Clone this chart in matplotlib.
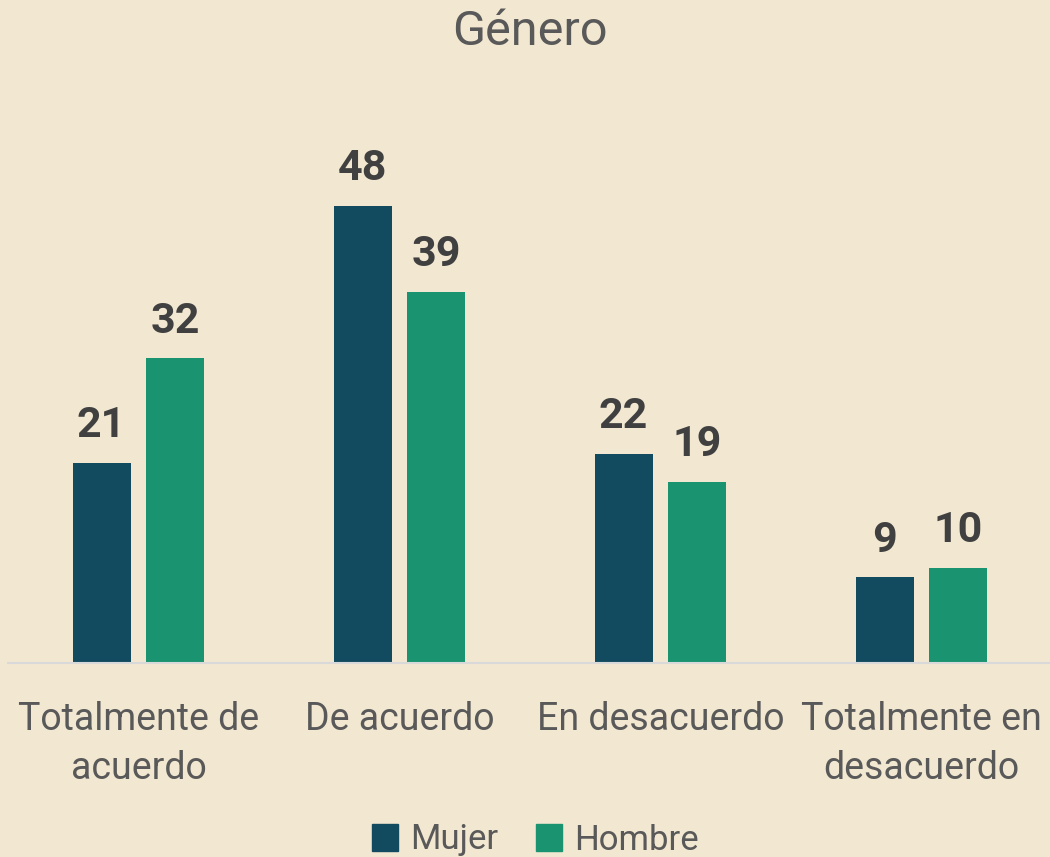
import matplotlib
matplotlib.use("Agg")
import matplotlib.pyplot as plt
import numpy as np
from matplotlib.patches import Patch

categories = ["Totalmente de\nacuerdo", "De acuerdo", "En desacuerdo", "Totalmente en\ndesacuerdo"]
mujer = [21, 48, 22, 9]
hombre = [32, 39, 19, 10]
series_names = ["Mujer", "Hombre"]
title = "Género"

bg = "#F2E7D1"
c_mujer = "#124A5F"
c_hombre = "#1A9470"
text_gray = "#595959"
label_gray = "#404040"

plt.rcParams['font.family'] = ['Roboto', 'DejaVu Sans']

fig = plt.figure(figsize=(10.5, 8.57), dpi=100, facecolor=bg)
ax = fig.add_axes([8/1050, 1 - 663/857, 1 - 6/1050, (663 - 100)/857])
ax.set_facecolor(bg)

x = np.arange(len(categories))
w = 0.222
off = 0.1416
b1 = ax.bar(x - off, mujer, w, color=c_mujer)
b2 = ax.bar(x + off, hombre, w, color=c_hombre)

for bars, vals in ((b1, mujer), (b2, hombre)):
    for r, v in zip(bars, vals):
        ax.annotate(str(v), (r.get_x() + r.get_width()/2, v), xytext=(0, 12),
                    textcoords="offset points", ha="center", va="bottom",
                    fontsize=31, fontweight="bold", color=label_gray)

ax.set_xlim(-0.5, 3.5)
ax.set_ylim(0, 563/9.52)
ax.set_yticks([])
ax.set_xticks(x)
ax.set_xticklabels(categories, fontsize=27, color=text_gray, linespacing=1.42)
ax.tick_params(axis='x', length=0, pad=27)
for s in ["top", "right", "left"]:
    ax.spines[s].set_visible(False)
ax.spines["bottom"].set_color("#D9D9D9")
ax.spines["bottom"].set_linewidth(1.5)

fig.text(0.505, 1 - 32/857, title, ha="center", va="center", fontsize=35, color=text_gray)

handles = [Patch(color=c_mujer), Patch(color=c_hombre)]
fig.legend(handles, series_names, loc="center", bbox_to_anchor=(0.51, 1 - 840/857),
           ncol=2, frameon=False, fontsize=25, labelcolor=text_gray,
           handlelength=0.75, handleheight=0.85, handletextpad=0.35, columnspacing=1.1)

fig.savefig("out.png", dpi=100, facecolor=bg)
